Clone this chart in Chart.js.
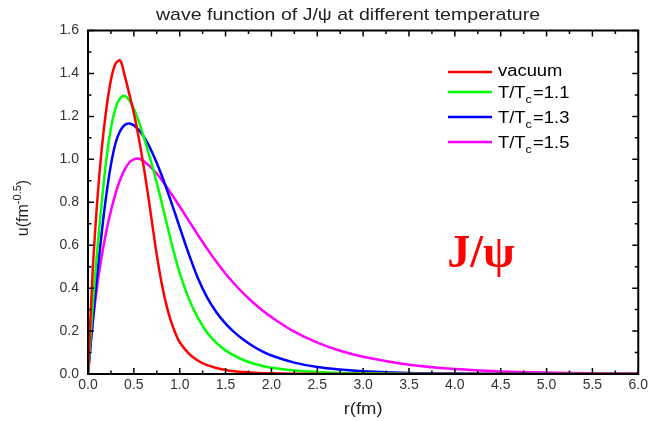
<!DOCTYPE html>
<html>
<head>
<meta charset="utf-8">
<script src="https://cdn.jsdelivr.net/npm/chart.js@4.4.0/dist/chart.umd.min.js"></script>
<style>
    html, body { margin: 0; padding: 0; background: #fff; }
    #wrap { width: 651px; height: 421px; }
</style>
</head>
<body>
<div id="wrap"><canvas id="wave_chart" width="651" height="421"></canvas></div>
<script>
// radial grid (fm) shared by all curves
const r_fm = [0, 0.05, 0.1, 0.15, 0.2, 0.25, 0.3, 0.35, 0.4, 0.45, 0.5, 0.55, 0.6, 0.65, 0.7, 0.75, 0.8, 0.85, 0.9, 0.95, 1.0,
    1.1, 1.2, 1.3, 1.4, 1.5, 1.6, 1.7, 1.8, 1.9, 2.0,
    2.25, 2.5, 2.75, 3.0, 3.5, 4.0, 4.5, 5.0, 5.5, 6.0];

// u(r) in fm^-0.5
const u_vacuum = [0, 0.47, 0.80, 1.05, 1.235, 1.37, 1.445, 1.46, 1.39, 1.305, 1.215, 1.108, 0.985, 0.848, 0.70, 0.555, 0.43, 0.33, 0.252, 0.193, 0.148,
    0.095, 0.062, 0.041, 0.028, 0.019, 0.013, 0.009, 0.006, 0.004, 0.003,
    0.001, 0.0005, 0, 0, 0, 0, 0, 0, 0, 0];
const u_t11 = [0, 0.31, 0.57, 0.80, 1.0, 1.145, 1.237, 1.285, 1.295, 1.275, 1.235, 1.18, 1.115, 1.045, 0.97, 0.89, 0.805, 0.716, 0.628, 0.545, 0.47,
    0.35, 0.26, 0.192, 0.145, 0.11, 0.084, 0.064, 0.049, 0.038, 0.029,
    0.016, 0.009, 0.005, 0.003, 0.001, 0.0003, 0, 0, 0, 0];
const u_t13 = [0, 0.24, 0.46, 0.66, 0.835, 0.975, 1.075, 1.132, 1.16, 1.167, 1.158, 1.139, 1.111, 1.075, 1.032, 0.983, 0.929, 0.871, 0.81, 0.747, 0.683,
    0.558, 0.445, 0.356, 0.288, 0.235, 0.193, 0.158, 0.129, 0.105, 0.086,
    0.053, 0.033, 0.021, 0.013, 0.005, 0.002, 0.001, 0.0004, 0, 0];
const u_t15 = [0, 0.23, 0.41, 0.55, 0.665, 0.76, 0.84, 0.905, 0.952, 0.985, 1.0, 1.004, 0.993, 0.977, 0.957, 0.933, 0.906, 0.876, 0.845, 0.813, 0.78,
    0.713, 0.647, 0.583, 0.523, 0.467, 0.418, 0.373, 0.333, 0.297, 0.265,
    0.197, 0.146, 0.108, 0.08, 0.043, 0.023, 0.012, 0.0065, 0.0035, 0.002];

const series_names = ['vacuum', 'T/Tc=1.1', 'T/Tc=1.3', 'T/Tc=1.5'];
const series_colors = ['#ff0000', '#00ff00', '#0000ff', '#ff00ff'];

// axis ticks
const x_ticks = [0, 0.5, 1.0, 1.5, 2.0, 2.5, 3.0, 3.5, 4.0, 4.5, 5.0, 5.5, 6.0];
const y_ticks = [0, 0.2, 0.4, 0.6, 0.8, 1.0, 1.2, 1.4, 1.6];

const FONT = '"Liberation Sans", Arial, sans-serif';
const WIDE = 1.15; // text is a bit wider than the font

function toPoints(values) {
    return r_fm.map((r, i) => ({ x: r, y: values[i] }));
}

// centred text, stretched sideways
function wideText(ctx, text, cx, cy, font, sx) {
    ctx.save();
    ctx.font = font;
    ctx.textAlign = 'center';
    ctx.textBaseline = 'middle';
    ctx.translate(cx, cy);
    ctx.scale(sx, 1);
    ctx.fillText(text, 0, 0);
    ctx.restore();
}

const framePlugin = {
    id: 'framePlugin',
    afterDatasetsDraw(chart) {
        const ctx = chart.ctx;
        const a = chart.chartArea;
        const xs = chart.scales.x;
        const ys = chart.scales.y;

        ctx.save();
        ctx.strokeStyle = '#000';
        ctx.lineWidth = 1.5;
        ctx.beginPath();
        // inward ticks on all four sides, minor ones halfway
        for (let i = 0; i < x_ticks.length; i++) {
            const px = xs.getPixelForValue(x_ticks[i]);
            ctx.moveTo(px, a.bottom); ctx.lineTo(px, a.bottom - 6);
            ctx.moveTo(px, a.top); ctx.lineTo(px, a.top + 6);
            if (i < x_ticks.length - 1) {
                const mx = xs.getPixelForValue((x_ticks[i] + x_ticks[i + 1]) / 2);
                ctx.moveTo(mx, a.bottom); ctx.lineTo(mx, a.bottom - 3.5);
                ctx.moveTo(mx, a.top); ctx.lineTo(mx, a.top + 3.5);
            }
        }
        for (let i = 0; i < y_ticks.length; i++) {
            const py = ys.getPixelForValue(y_ticks[i]);
            ctx.moveTo(a.left, py); ctx.lineTo(a.left + 6, py);
            ctx.moveTo(a.right, py); ctx.lineTo(a.right - 6, py);
            if (i < y_ticks.length - 1) {
                const my = ys.getPixelForValue((y_ticks[i] + y_ticks[i + 1]) / 2);
                ctx.moveTo(a.left, my); ctx.lineTo(a.left + 3.5, my);
                ctx.moveTo(a.right, my); ctx.lineTo(a.right - 3.5, my);
            }
        }
        ctx.stroke();

        ctx.lineWidth = 2;
        ctx.strokeRect(a.left, a.top, a.right - a.left, a.bottom - a.top);

        // title and x axis title
        ctx.fillStyle = '#222';
        wideText(ctx, 'wave function of J/\u03c8 at different temperature', 348, 15, '17px ' + FONT, WIDE);
        wideText(ctx, 'r(fm)', (a.left + a.right) / 2, 410, '16px ' + FONT, WIDE);

        // y axis title with superscript, rotated
        ctx.save();
        ctx.translate(22, 208);
        ctx.rotate(-Math.PI / 2);
        ctx.textBaseline = 'alphabetic';
        ctx.textAlign = 'left';
        ctx.font = '16px ' + FONT;
        const w1 = ctx.measureText('u(fm').width;
        ctx.font = '11px ' + FONT;
        const w2 = ctx.measureText('-0.5').width;
        ctx.font = '16px ' + FONT;
        const w3 = ctx.measureText(')').width;
        let x0 = -(w1 + w2 + w3) / 2;
        ctx.fillText('u(fm', x0, 6);
        ctx.font = '11px ' + FONT;
        ctx.fillText('-0.5', x0 + w1, -1);
        ctx.font = '16px ' + FONT;
        ctx.fillText(')', x0 + w1 + w2, 6);
        ctx.restore();

        // legend
        const rowY = [72, 92, 117, 142];
        for (let i = 0; i < series_names.length; i++) {
            const y = rowY[i];
            ctx.strokeStyle = series_colors[i];
            ctx.lineWidth = 2.5;
            ctx.beginPath();
            ctx.moveTo(448, y);
            ctx.lineTo(492, y);
            ctx.stroke();

            ctx.save();
            ctx.translate(498, y);
            ctx.scale(WIDE, 1);
            ctx.fillStyle = '#000';
            ctx.textAlign = 'left';
            ctx.textBaseline = 'alphabetic';
            ctx.font = '16px ' + FONT;
            const name = series_names[i];
            if (name.indexOf('Tc') < 0) {
                ctx.fillText(name, 0, 4);
            } else {
                const head = 'T/T';
                const tail = name.split('Tc')[1];
                ctx.fillText(head, 0, 6);
                let w = ctx.measureText(head).width;
                ctx.font = '11px ' + FONT;
                ctx.fillText('c', w, 11);
                w += ctx.measureText('c').width + 1;
                ctx.font = '16px ' + FONT;
                ctx.fillText(tail, w, 6);
            }
            ctx.restore();
        }

        // big particle label
        ctx.fillStyle = '#ff0000';
        ctx.font = 'bold 46px "Liberation Serif", "Times New Roman", serif';
        ctx.textAlign = 'center';
        ctx.textBaseline = 'alphabetic';
        ctx.fillText('J/\u03c8', 481, 267);
        ctx.restore();
    }
};

const datasets = [u_vacuum, u_t11, u_t13, u_t15].map((vals, i) => ({
    label: series_names[i],
    data: toPoints(vals),
    borderColor: series_colors[i],
    borderWidth: 2.5,
    pointRadius: 0,
    fill: false,
    tension: 0.35
}));

new Chart(document.getElementById('wave_chart'), {
    type: 'line',
    data: { datasets: datasets },
    plugins: [framePlugin],
    options: {
        responsive: false,
        animation: false,
        layout: { padding: { left: 0, top: 30.5, right: 11.5, bottom: 0 } },
        plugins: {
            legend: { display: false },
            tooltip: { enabled: false },
            title: { display: false }
        },
        scales: {
            x: {
                type: 'linear',
                min: 0,
                max: 6,
                grid: { display: false, drawTicks: false },
                border: { display: false },
                afterBuildTicks: (scale) => { scale.ticks = x_ticks.map(v => ({ value: v })); },
                afterFit: (scale) => { scale.height = 47; },
                ticks: {
                    padding: 3,
                    maxRotation: 0,
                    autoSkip: false,
                    color: '#333',
                    font: { family: FONT, size: 14 },
                    callback: (v) => Number(v).toFixed(1)
                }
            },
            y: {
                min: 0,
                max: 1.6,
                grid: { display: false, drawTicks: false },
                border: { display: false },
                afterBuildTicks: (scale) => { scale.ticks = y_ticks.map(v => ({ value: v })); },
                afterFit: (scale) => { scale.width = 88; },
                ticks: {
                    padding: 9,
                    autoSkip: false,
                    color: '#333',
                    font: { family: FONT, size: 14 },
                    callback: (v) => Number(v).toFixed(1)
                }
            }
        }
    }
});
</script>
</body>
</html>
